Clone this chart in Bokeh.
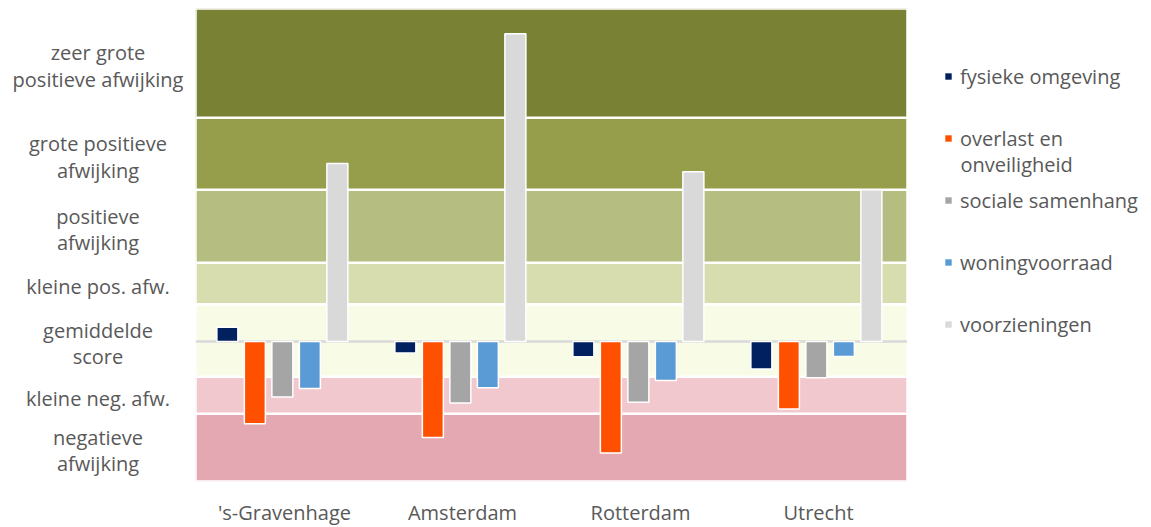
from bokeh.plotting import figure
from bokeh.layouts import row
from bokeh.models import (FactorRange, Range1d, BoxAnnotation, Span, Label,
                          Legend, LegendItem, ColumnDataSource)
from bokeh.transform import dodge
from bokeh.core.properties import value
from bokeh.embed import file_html
from bokeh.resources import INLINE

# ---------------- data ----------------
cities = ["'s-Gravenhage", "Amsterdam", "Rotterdam", "Utrecht"]
series = ["fysieke omgeving", "overlast en onveiligheid", "sociale samenhang",
          "woningvoorraad", "voorzieningen"]
legend_lines = [["fysieke omgeving"], ["overlast en", "onveiligheid"], ["sociale samenhang"],
                ["woningvoorraad"], ["voorzieningen"]]
fysieke = [0.39, -0.31, -0.41, -0.74]
overlast = [-2.22, -2.59, -3.01, -1.82]
sociale = [-1.50, -1.66, -1.64, -0.98]
woning = [-1.27, -1.25, -1.05, -0.40]
voorzieningen = [4.81, 8.32, 4.59, 4.10]

band_edges = [-3.78, -1.95, -0.95, 1.01, 2.13, 4.10, 6.05, 9.0]
band_labels = [["negatieve", "afwijking"], ["kleine neg. afw."], ["gemiddelde", "score"],
               ["kleine pos. afw."], ["positieve", "afwijking"],
               ["grote positieve", "afwijking"], ["zeer grote", "positieve afwijking"]]
band_colors = ["#e4a8b2", "#f2c8cf", "#f8fbe6", "#d7ddae", "#b5be80", "#969e4b", "#798234"]
bar_colors = ["#002060", "#ff5000", "#a5a5a5", "#5b9bd5", "#d9d9d9"]

FONT = "Open Sans"
TXT = "#595959"
FS = "20px"
FH = 473

yr = Range1d(band_edges[0], band_edges[-1])

# ---------------- main plot ----------------
p = figure(x_range=FactorRange(*cities), y_range=yr,
           frame_width=712, frame_height=FH, min_border_left=0, min_border_top=8,
           min_border_right=0, min_border_bottom=0,
           output_backend="svg", toolbar_location=None, outline_line_color=None)
p.xgrid.visible = False
p.ygrid.visible = False
p.yaxis.visible = False

for lo, hi, col in zip(band_edges[:-1], band_edges[1:], band_colors):
    p.add_layout(BoxAnnotation(bottom=lo, top=hi, fill_color=col, fill_alpha=1,
                               line_color="white", line_width=2.5, line_alpha=1,
                               level="underlay"))
p.add_layout(Span(location=0, dimension="width", line_color="#d9d9d9",
                  line_width=2.5, level="underlay"))

src = ColumnDataSource(dict(city=cities, s0=fysieke, s1=overlast, s2=sociale,
                            s3=woning, s4=voorzieningen))
step = 0.1545
shift = -0.012
for i in range(5):
    p.vbar(x=dodge("city", shift + (i - 2) * step, range=p.x_range), top=f"s{i}",
           bottom=0, width=0.118, source=src, fill_color=bar_colors[i],
           line_color="white", line_width=1.5)

p.xaxis.axis_line_color = None
p.xaxis.major_tick_line_color = None
p.xaxis.minor_tick_line_color = None
p.xaxis.major_label_standoff = 11
p.xaxis.major_label_text_font = FONT
p.xaxis.major_label_text_font_size = FS
p.xaxis.major_label_text_color = TXT
p.x_range.range_padding = 0

# ---------------- left band labels ----------------
lx, ly, loff, ltxt = [], [], [], []
for lo, hi, lines in zip(band_edges[:-1], band_edges[1:], band_labels):
    mid = (lo + hi) / 2
    n = len(lines)
    for j, t in enumerate(lines):
        lx.append(0.5)
        ly.append(mid)
        loff.append((j - (n - 1) / 2) * 26.5 + 3)
        ltxt.append(t)
lsrc = ColumnDataSource(dict(x=lx, y=ly, off=loff, text=ltxt))

left = figure(x_range=Range1d(0, 1), y_range=yr, width=195, frame_height=FH,
              min_border_left=0, min_border_right=0, min_border_top=8, min_border_bottom=0,
              x_axis_type=None, y_axis_type=None, output_backend="svg",
              toolbar_location=None, outline_line_color=None)
left.xgrid.visible = False
left.ygrid.visible = False
left.text(x="x", y="y", text="text", y_offset="off", source=lsrc, text_align="center",
          text_baseline="middle", text_font=value(FONT), text_font_size=FS,
          text_color=TXT)

# ---------------- legend column ----------------
leg = figure(x_range=Range1d(0, 1), y_range=Range1d(0, 1), width=235, frame_height=FH,
             min_border_left=0, min_border_right=0, min_border_top=8, min_border_bottom=0,
             x_axis_type=None, y_axis_type=None, output_backend="svg",
             toolbar_location=None, outline_line_color=None)
leg.xgrid.visible = False
leg.ygrid.visible = False
nan = float("nan")
# legend proxies: one NaN row each, so nothing is drawn in the plot area
swatches = [leg.vbar(x=[nan], top=[nan], width=0.1, fill_color=c, line_color=None)
            for c in bar_colors]
items = [LegendItem(label=lines[0], renderers=[r]) for lines, r in zip(legend_lines, swatches)]
legend = Legend(items=items, location=(37, 142), glyph_width=8, glyph_height=8,
                label_standoff=8, spacing=32, label_height=30, padding=0, margin=0,
                border_line_color=None, background_fill_alpha=0,
                label_text_font=FONT, label_text_font_size=FS, label_text_color=TXT)
leg.add_layout(legend)
leg.add_layout(Label(x=53, y=317, x_units="screen", y_units="screen",
                     text=legend_lines[1][1], text_baseline="middle",
                     text_font=FONT, text_font_size=FS, text_color=TXT))

layout = row(left, p, leg, spacing=0)
open("out.html", "w").write(file_html(layout, INLINE))
